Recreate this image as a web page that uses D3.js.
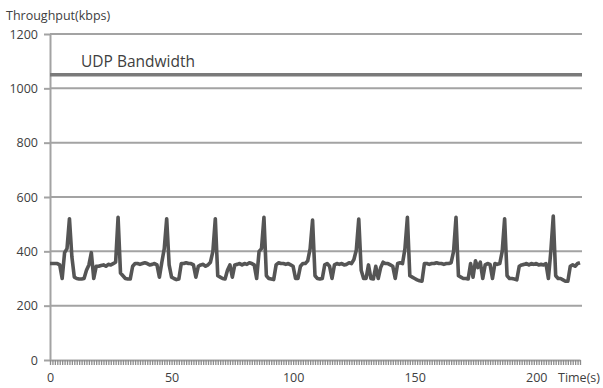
<!DOCTYPE html>
<html>
<head>
<meta charset="utf-8">
<script src="https://cdn.jsdelivr.net/npm/d3@7/dist/d3.min.js"></script>
<style>
  html, body { margin: 0; padding: 0; background: #fff; }
  svg { display: block; }
  text { font-family: "Open Sans", "DejaVu Sans", sans-serif; fill: #404040; }
</style>
</head>
<body>
<svg id="chart" width="603" height="388"></svg>
<script>
// ---- data ----
const throughput = [
  355,355,355,355,350,300,395,410,520,380,
  305,300,298,298,300,330,350,395,300,345,
  345,348,350,345,352,350,355,360,525,320,
  310,300,298,298,345,355,355,352,355,358,
  355,350,352,355,350,305,360,410,520,350,
  305,300,296,298,355,355,358,355,355,350,
  305,345,350,352,345,350,360,400,520,310,
  305,300,298,330,350,305,350,352,355,350,
  355,352,358,355,350,300,400,410,525,310,
  300,298,296,350,358,355,355,352,355,350,
  345,300,300,345,355,355,365,410,515,310,
  300,298,300,350,355,345,300,350,355,352,
  355,350,352,358,355,370,405,519,330,300,
  300,350,300,298,345,300,340,360,355,355,
  350,345,300,355,358,355,410,525,310,305,
  300,295,292,290,355,355,352,355,355,358,
  355,355,352,355,355,358,400,525,310,305,
  300,300,298,355,305,365,340,360,300,350,
  355,352,300,355,352,355,400,520,310,300,
  300,298,295,345,350,352,355,350,355,352,
  355,350,352,350,355,300,400,530,310,300,
  300,295,290,290,345,350,345,355,358
];
const udpBandwidth = 1050;
const yTicks = [0, 200, 400, 600, 800, 1000, 1200];
const xTickLabels = [0, 50, 100, 150, 200];
const yTitle = "Throughput(kbps)";
const xTitle = "Time(s)";
const udpLabel = "UDP Bandwidth";

// ---- layout ----
const svg = d3.select("#chart");
const x = d3.scaleLinear().domain([0, throughput.length - 1]).range([50, 580]);
const y = d3.scaleLinear().domain([0, 1200]).range([360, 34]);
const gridColor = "#a3a3a3";
const fontFam = '"Open Sans", "DejaVu Sans", sans-serif';

// gridlines
svg.append("g")
  .selectAll("line")
  .data(yTicks.filter(d => d > 0))
  .join("line")
  .attr("x1", 50).attr("x2", 582)
  .attr("y1", d => y(d)).attr("y2", d => y(d))
  .attr("stroke", gridColor).attr("stroke-width", 2);

// y axis
const yAxis = svg.append("g")
  .attr("transform", "translate(50,0)")
  .call(d3.axisLeft(y).tickValues(yTicks).tickFormat(d3.format("d"))
    .tickSize(6).tickPadding(6).tickSizeOuter(0));
yAxis.select(".domain").attr("stroke", gridColor).attr("stroke-width", 2);
yAxis.selectAll(".tick line").attr("stroke", gridColor).attr("stroke-width", 2);
yAxis.selectAll(".tick text")
  .attr("font-family", fontFam)
  .attr("font-size", 12.5).attr("fill", "#404040");

// x axis: dense category tick marks
const xHatch = svg.append("g")
  .attr("transform", "translate(0,360)")
  .call(d3.axisBottom(x).tickValues(d3.range(0, throughput.length)).tickSize(5)
    .tickFormat("").tickSizeOuter(0));
xHatch.select(".domain").attr("stroke", gridColor).attr("stroke-width", 2);
xHatch.selectAll(".tick line").attr("stroke", "#8c8c8c").attr("stroke-width", 1.3);

// x axis labels
const xLab = svg.append("g")
  .attr("transform", "translate(0,360)")
  .call(d3.axisBottom(x).tickValues(xTickLabels).tickSize(0).tickPadding(13));
xLab.select(".domain").remove();
xLab.selectAll(".tick text")
  .attr("font-family", fontFam)
  .attr("font-size", 12.5).attr("fill", "#404040");

// UDP bandwidth line
svg.append("line")
  .attr("x1", 50).attr("x2", 582)
  .attr("y1", y(udpBandwidth)).attr("y2", y(udpBandwidth))
  .attr("stroke", "#7a7a7a").attr("stroke-width", 3.5);
svg.append("text")
  .attr("x", 81).attr("y", 67)
  .attr("font-size", 15.5).attr("fill", "#303030")
  .text(udpLabel);

// throughput line
svg.append("path")
  .datum(throughput)
  .attr("fill", "none")
  .attr("stroke", "#555555")
  .attr("stroke-width", 3.6)
  .attr("stroke-linejoin", "round")
  .attr("d", d3.line().x((d, i) => x(i)).y(d => y(d)));

// titles
svg.append("text").attr("x", 6).attr("y", 20).attr("font-size", 12.5).text(yTitle);
svg.append("text").attr("x", 558).attr("y", 382).attr("font-size", 12.5).text(xTitle);
</script>
</body>
</html>
